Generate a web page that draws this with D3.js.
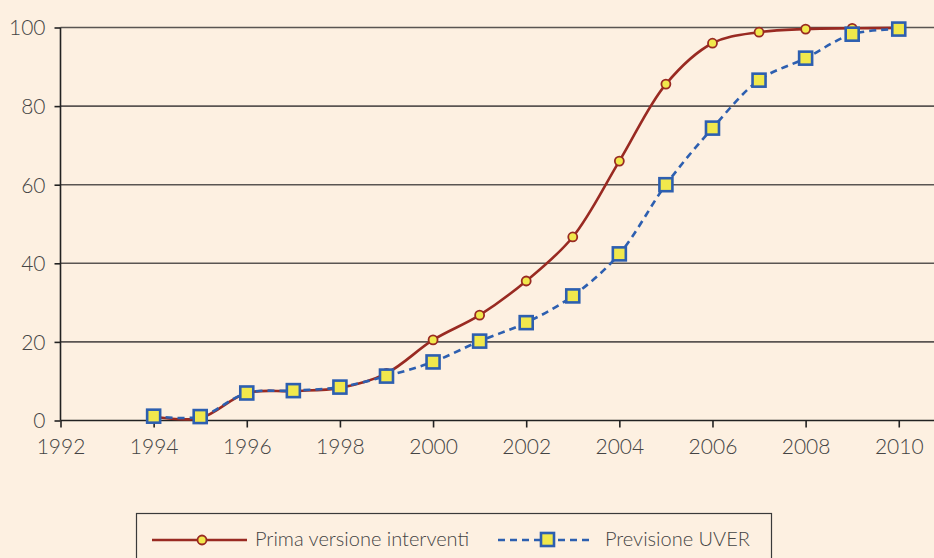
<!DOCTYPE html>
<html>
<head>
<meta charset="utf-8">
<script src="https://cdn.jsdelivr.net/npm/d3@7"></script>
<style>
  body{margin:0;background:#fdf0e1;}
  svg{display:block;font-family:"Lato","Open Sans",sans-serif;font-weight:300;}
  .tick text{fill:#444;font-size:21px;}
</style>
</head>
<body>
<div id="chart"></div>
<script>
// data
const years=[1994,1995,1996,1997,1998,1999,2000,2001,2002,2003,2004,2005,2006,2007,2008,2009,2010]
const primaVersione=[1,0.6,7,7.5,8.3,12,20.5,26.8,35.5,46.7,66,85.6,96,98.8,99.6,99.8,99.9]
const previsioneUVER=[1.1,1,7,7.6,8.5,11.3,14.9,20.2,24.9,31.7,42.4,60,74.4,86.6,92.2,98.3,99.6]
const xTicks=[1992,1994,1996,1998,2000,2002,2004,2006,2008,2010]
const yTicks=[0,20,40,60,80,100]

const width=934, height=558
const svg=d3.select("#chart").append("svg").attr("width",width).attr("height",height)
svg.append("rect").attr("width",width).attr("height",height).attr("fill","#fdf0e1")

//scales
const x=d3.scaleLinear().domain([1992,1992+(934-60.5)/46.57]).range([60.5,934])
const y=d3.scaleLinear().domain([0,100]).range([420.5,27.5])

//grid lines
svg.append("g").selectAll("line").data(yTicks.filter(d=>d>0)).enter().append("line")
  .attr("x1",60.5).attr("x2",width).attr("y1",d=>y(d)).attr("y2",d=>y(d))
  .attr("stroke","#5a5552").attr("stroke-width",1.6)

//axes
const axisY=d3.axisLeft(y).tickValues(yTicks).tickSize(6).tickPadding(9)
const axisX=d3.axisBottom(x).tickValues(xTicks).tickFormat(d3.format("d")).tickSize(7).tickPadding(12)
const gy=svg.append("g").attr("transform","translate(60.5,0)").call(axisY)
const gx=svg.append("g").attr("transform","translate(0,420.5)").call(axisX)
gy.attr("font-family",null).attr("font-size",null)
gx.attr("font-family",null).attr("font-size",null)
gy.select(".domain").attr("d","M0,"+y(100)+"V"+y(0))
gx.select(".domain").attr("d","M60.5,0H"+width)
svg.selectAll(".domain").attr("stroke","#222").attr("stroke-width",1.6)
svg.selectAll(".tick line").attr("stroke","#222").attr("stroke-width",1.6)
gy.selectAll(".tick text").attr("dy","0.35em")

const line=d3.line().x(d=>x(d[0])).y(d=>y(d[1])).curve(d3.curveCatmullRom.alpha(0.5))
const red=years.map((yr,i)=>[yr,primaVersione[i]])
const blue=years.map((yr,i)=>[yr,previsioneUVER[i]])

const redCol="#992a22", blueCol="#2d5fb0", yel="#f1e84c"

svg.append("path").datum(red).attr("d",line).attr("fill","none").attr("stroke",redCol).attr("stroke-width",2.6)
svg.append("g").selectAll("circle").data(red).enter().append("circle")
  .attr("cx",d=>x(d[0])).attr("cy",d=>y(d[1])).attr("r",4.5)
  .attr("fill",yel).attr("stroke",redCol).attr("stroke-width",1.8)

svg.append("path").datum(blue).attr("d",line).attr("fill","none").attr("stroke",blueCol).attr("stroke-width",2.6).attr("stroke-dasharray","7,5")
svg.append("g").selectAll("rect").data(blue).enter().append("rect")
  .attr("x",d=>x(d[0])-6.5).attr("y",d=>y(d[1])-6.5).attr("width",13).attr("height",13)
  .attr("fill",yel).attr("stroke",blueCol).attr("stroke-width",2.6)

//legend
const legend=svg.append("g").attr("id","legend")
legend.append("rect").attr("x",136.5).attr("y",513.5).attr("width",635).attr("height",60)
  .attr("fill","none").attr("stroke","#3a3a3a").attr("stroke-width",1.2)
legend.append("line").attr("x1",152).attr("x2",247).attr("y1",540).attr("y2",540).attr("stroke",redCol).attr("stroke-width",2.6)
legend.append("circle").attr("cx",202).attr("cy",540).attr("r",4.5).attr("fill",yel).attr("stroke",redCol).attr("stroke-width",1.8)
legend.append("text").attr("x",255).attr("y",546).text("Prima versione interventi").attr("font-size",20).attr("fill","#444")
legend.append("line").attr("x1",498).attr("x2",592).attr("y1",540).attr("y2",540).attr("stroke",blueCol).attr("stroke-width",2.6).attr("stroke-dasharray","7,5")
legend.append("rect").attr("x",541).attr("y",533).attr("width",13).attr("height",13).attr("fill",yel).attr("stroke",blueCol).attr("stroke-width",2.6)
legend.append("text").attr("x",605).attr("y",546).text("Previsione UVER").attr("font-size",20).attr("fill","#444")
</script>
</body>
</html>
